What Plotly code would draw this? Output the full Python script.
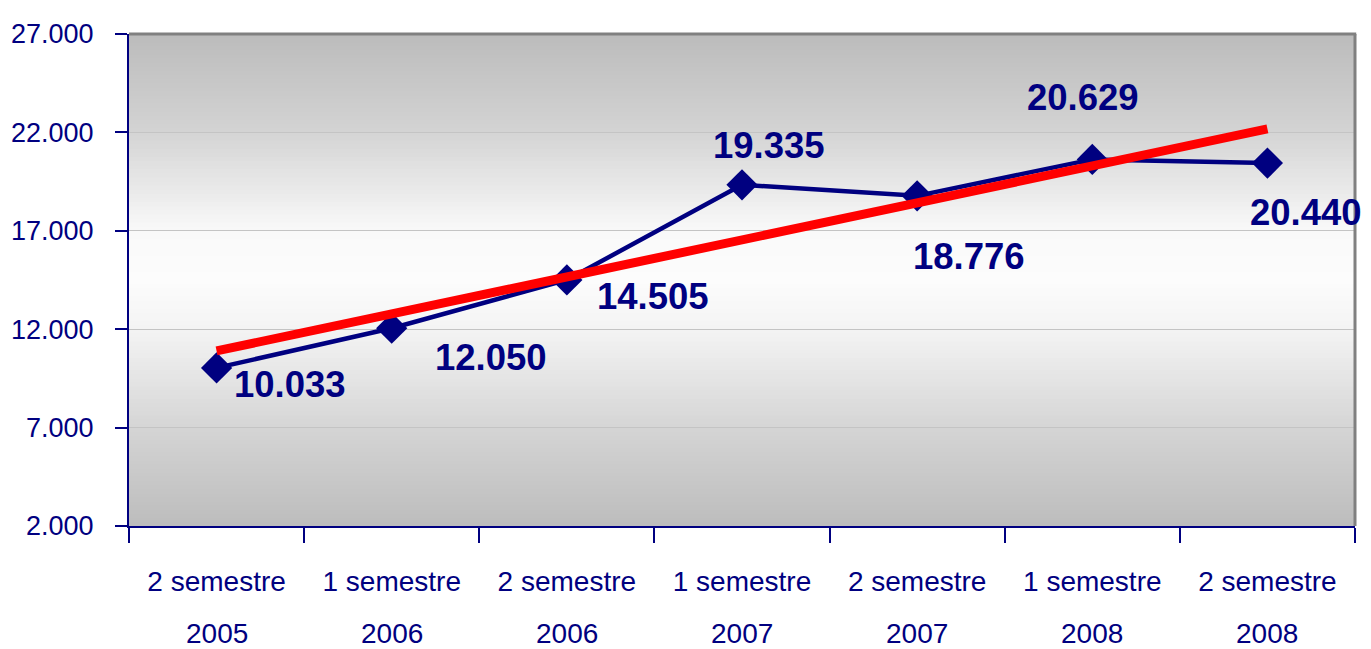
import numpy as np
import plotly.graph_objects as go

# dati
semestri = ['2 semestre', '1 semestre', '2 semestre', '1 semestre', '2 semestre', '1 semestre', '2 semestre']
anni = ['2005', '2006', '2006', '2007', '2007', '2008', '2008']
valori = [10033, 12050, 14505, 19335, 18776, 20629, 20440]
categorie = [s + ' ' + a for s, a in zip(semestri, anni)]

# spostamento etichette (pixel)
lab_dx = [73, 99, 86, 27, 52, -9, 39]
lab_dy = [-17, -29, -17, 39, -61, 62, -49]

NAVY = '#000080'
FONT = 'Liberation Sans, Arial, sans-serif'

# linea di tendenza (regressione lineare)
xi = np.arange(len(valori))
m, q = np.polyfit(xi, valori, 1)
tendenza = m * xi + q

fig = go.Figure()
fig.add_trace(go.Scatter(
    x=categorie, y=valori, mode='lines+markers',
    line=dict(color=NAVY, width=4.5),
    marker=dict(symbol='diamond', size=24, color=NAVY),
    hoverinfo='x+y', showlegend=False,
))
fig.add_trace(go.Scatter(
    x=categorie, y=tendenza, mode='lines',
    line=dict(color='#ff0000', width=9),
    hoverinfo='skip', showlegend=False,
))

# sfondo sfumato
stops = [(0, 188), (0.2, 213), (0.4, 244), (0.5, 252), (0.6, 249), (0.8, 212), (1.0, 187)]
sf = [s[0] for s in stops]
sv = [s[1] for s in stops]
shapes = []
n = 120
for i in range(n):
    f0, f1 = i / n, (i + 1) / n
    g = int(round(np.interp((f0 + f1) / 2, sf, sv)))
    shapes.append(dict(type='rect', xref='x domain', yref='y domain',
                       x0=0, x1=1, y0=f0, y1=f1 + 0.002, layer='below',
                       line=dict(width=0), fillcolor=f'rgb({g},{g},{g})'))
# bordo superiore e destro
shapes.append(dict(type='line', xref='x domain', yref='y domain', x0=0, x1=1.001, y0=1, y1=1,
                   line=dict(color='#808080', width=3)))
shapes.append(dict(type='line', xref='x domain', yref='y domain', x0=1, x1=1, y0=0, y1=1,
                   line=dict(color='#808080', width=3)))

annotations = []
for c, v, dx, dy in zip(categorie, valori, lab_dx, lab_dy):
    annotations.append(dict(x=c, y=v, text=f'{v:,}'.replace(',', '.'), showarrow=False,
                            xshift=dx, yshift=dy,
                            font=dict(family=FONT, size=36.5, color=NAVY, weight='bold')))
for c, a in zip(categorie, anni):
    annotations.append(dict(x=c, y=0, xref='x', yref='paper', text=a, showarrow=False,
                            yshift=-107, yanchor='middle',
                            font=dict(family=FONT, size=28, color=NAVY)))

# la pagina aggiunge 8px di margine: dimensioni compensate
fig.update_layout(
    width=1363, height=641,
    margin=dict(l=121, r=16, t=26, b=123, autoexpand=False),
    paper_bgcolor='white', plot_bgcolor='rgba(0,0,0,0)',
    separators=',.',
    shapes=shapes, annotations=annotations,
    font=dict(family=FONT, color=NAVY),
)
fig.update_xaxes(
    type='category', tickmode='array', tickvals=categorie, ticktext=semestri,
    range=[-0.5, len(categorie) - 0.5],
    tickson='boundaries', ticks='outside', ticklen=15, tickcolor=NAVY, tickwidth=1.5,
    showline=True, linecolor=NAVY, linewidth=2, showgrid=False, automargin=False,
    tickfont=dict(family=FONT, size=28, color=NAVY), ticklabelstandoff=29,
)
fig.update_yaxes(
    range=[2000, 27000], tick0=2000, dtick=5000, tickformat=',d',
    ticks='outside', ticklen=12, tickcolor=NAVY, tickwidth=1.5,
    showline=True, linecolor=NAVY, linewidth=2, automargin=False,
    showgrid=True, gridcolor='#c4c4c4', gridwidth=1, zeroline=False,
    tickfont=dict(family=FONT, size=27, color=NAVY), ticklabelstandoff=16,
)

fig.write_html('out.html')
